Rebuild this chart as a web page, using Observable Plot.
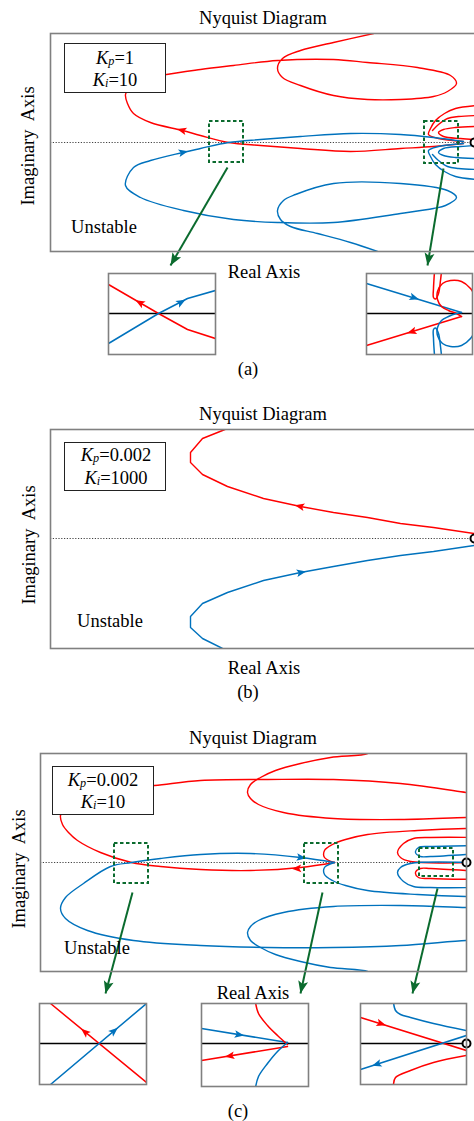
<!DOCTYPE html>
<html><head><meta charset="utf-8">
<script src="https://cdn.jsdelivr.net/npm/d3@7"></script>
<script src="https://cdn.jsdelivr.net/npm/@observablehq/plot@0.6"></script>
<style>
body{margin:0;background:#fff}
#fig{position:relative;width:474px;height:1121px;overflow:hidden;background:#fff;font-family:"Liberation Serif","Times New Roman",serif;color:#000}
.t{position:absolute;font-size:18.5px;line-height:1;white-space:pre;transform:translate(-50%,-50%)}
.r{transform:translate(-50%,-50%) rotate(-90deg)}
.lg{position:absolute;background:#fff;border:1.2px solid #222;box-sizing:border-box}
.t sub{font-size:.66em;position:relative;top:.08em;vertical-align:baseline;line-height:0}
svg{position:absolute}
</style></head><body><div id="fig"></div>
<script>
// ---------- texts ----------
const TITLE = "Nyquist Diagram", XLAB = "Real Axis", YLAB = "Imaginary  Axis", NOTE = "Unstable";
const panelTags = ["(a)", "(b)", "(c)"];
const kpValues = ["1", "0.002", "0.002"];
const kiValues = ["10", "1000", "10"];

// ---------- panel (a) curves : [Re, Im] in arbitrary units ----------
const redA = [[413,-1],[383,-4],[350,-6],[300,-9],[250,-6],[210,-3],[178,0],[150,7],[132,12],[100,20],[83,29],[77,39],[75,48],[80,56],[95,63],[116,68],[150,73],[183,77],[227,82],[283,83],[317,80],[367,75],[400,67],[406,59],[397,51],[383,46],[350,43],[317,43],[283,47],[250,57],[232,65],[227,74],[232,84],[250,92],[283,100],[323,109],[335,112]];
const blueA = [[335,-112],[327,-109],[300,-100],[267,-91],[240,-84],[230,-77],[227,-68],[233,-58],[245,-52],[283,-41],[350,-41],[397,-48],[406,-55],[395,-63],[383,-66],[350,-71],[283,-80],[227,-80],[183,-77],[133,-68],[90,-55],[75,-43],[83,-25],[100,-18],[132,-10],[150,-6],[178,0],[210,3],[250,6],[300,9],[350,8],[383,5],[413,1]];
const redA2 = [[426,37],[405,34],[394,29],[385,22],[380,14],[378,8],[388,4],[413,1]];
const redA3 = [[426,27],[408,26],[397,24],[388,18],[382,12]];
const redA4 = [[426,16],[405,15],[393,13],[388,10],[393,6],[410,4],[426,3]];
const blueA2 = [[426,-37],[405,-34],[394,-29],[385,-22],[380,-14],[378,-8],[388,-4],[413,-1]];
const blueA3 = [[426,-27],[408,-26],[397,-24],[388,-18],[382,-12]];
const blueA4 = [[426,-16],[405,-15],[393,-13],[388,-10],[393,-6],[410,-4],[426,-3]];
const redHeadsA = [{at:[132,12], to:[100,20]}];
const blueHeadsA = [{at:[132,-10], to:[150,-6]}];
const boxesA = [[159,193,-20,21],[374,408,-21,21]];
const linksA = [[177,-25,120,-123],[393,-26,377,-123]];
const criticalA = [[424,0]];

// panel (a) insets
const inA1red = [[107,-25],[79,-16],[50,0],[0,29]];
const inA1blue = [[0,-30],[50,0],[79,15],[107,23]];
const inA1redHeads = [{at:[32,10.5], to:[0,29]}];
const inA1blueHeads = [{at:[72,11], to:[79,15]}];
const inA2blue = [[0,30],[95,1]];
const inA2red = [[95,-3],[0,-32]];
const inA2redHair = [[68,42],[67,25],[67,16],[69,14.5],[72,20],[74,33],[75,42]];
const inA2redCirc = [[110,14],[104,25],[95,32],[84,33],[76,30],[71,22],[71,14],[75,7],[82,3],[90,0],[95,-3]];
const inA2blueHair = [[68,-42],[67,-25],[67,-16],[69,-14.5],[72,-20],[74,-33],[75,-42]];
const inA2blueCirc = [[110,-14],[104,-25],[95,-32],[84,-33],[76,-30],[71,-22],[71,-14],[75,-7],[82,-3],[90,0],[95,1]];
const inA2blueHeads = [{at:[47,16], to:[95,1]}];
const inA2redHeads = [{at:[46,-18], to:[0,-32]}];

// ---------- panel (b) ----------
const redB = [[424,5],[383,11],[350,15],[317,21],[283,26],[250,32],[213,40],[177,52],[152,64],[140,76],[140,86],[152,100],[172,108],[182,112]];
const blueB = [[182,-113],[172,-110],[152,-100],[140,-89],[140,-78],[152,-65],[177,-54],[213,-42],[250,-34],[283,-28],[317,-22],[350,-17],[383,-13],[424,-7]];
const redHeadsB = [{at:[250,32], to:[213,40]}];
const blueHeadsB = [{at:[250,-34], to:[283,-28]}];
const criticalB = [[424,0]];

// ---------- panel (c) ----------
const redC1 = [[294,0],[260,-5],[210,-8],[160,-7],[120,-4],[91,0],[60,10],[37,22],[28,30],[22,38],[20,47],[30,62],[60,72],[114,77],[160,82],[227,83],[293,83],[360,79],[426,70],[440,68]];
const redC2 = [[330,112],[327,109],[290,105],[260,99],[235,92],[220,85],[210,78],[207,70],[210,64],[218,58],[243,50],[293,44],[360,43],[426,45],[440,45]];
const redC3 = [[440,34],[426,34],[377,32],[327,28],[305,23],[292,18],[284,12],[284,5],[294,0]];
const redC4 = [[440,25],[390,25],[373,24],[363,19],[357,10],[360,5],[370,1],[426,0]];
const redC5 = [[440,-9],[390,-6],[380,-6],[375,-10],[378,-15],[390,-16],[440,-17]];
const blueC1 = [[440,-78],[426,-78],[360,-83],[293,-85],[227,-85],[160,-83],[93,-78],[47,-68],[25,-56],[20,-46],[25,-35],[43,-21],[70,-4],[91,0],[120,4],[160,8],[210,9],[260,5],[294,0]];
const blueC2 = [[330,-112],[327,-109],[290,-105],[260,-99],[235,-92],[220,-85],[210,-78],[207,-70],[210,-64],[218,-58],[243,-50],[293,-44],[360,-43],[426,-45],[440,-45]];
const blueC3 = [[440,-34],[426,-34],[377,-32],[327,-28],[305,-23],[292,-18],[284,-12],[284,-5],[294,0]];
const blueC4 = [[440,-25],[390,-25],[373,-24],[363,-19],[357,-10],[360,-5],[370,-1],[426,0]];
const blueC5 = [[440,9],[390,6],[380,6],[375,10],[378,15],[390,16],[440,17]];
const redHeadsC = [{at:[257,-6], to:[210,-8]}];
const blueHeadsC = [{at:[260,5], to:[294,0]}];
const boxesC = [[74,108,-21,19],[264,298,-21,19],[379,413,-14,14]];
const linksC = [[92,-30,65,-131],[282,-30,260,-131],[397,-26,372,-131]];
const criticalC = [[426,0]];

// panel (c) insets
const inC1red = [[107,-39],[11,40]];
const inC1blue = [[11,-41],[107,40]];
const inC1redHeads = [{at:[46,11], to:[11,40]}];
const inC1blueHeads = [{at:[74,12], to:[107,40]}];
const inC2blue = [[0,15],[86,1]];
const inC2red = [[86,-3],[0,-17]];
const inC2redCurve = [[54,41],[57,30],[66,18],[76,8],[86,-1]];
const inC2blueCurve = [[54,-44],[57,-33],[66,-20],[76,-8],[86,1]];
const inC2blueHeads = [{at:[37,9], to:[86,1]}];
const inC2redHeads = [{at:[29,-12.3], to:[0,-17]}];
const inC3blueTop = [[33,41],[35,33],[40,29],[50,26],[73,20],[106,13]];
const inC3red = [[0,26],[106,-7]];
const inC3blue = [[106,8],[0,-26]];
const inC3redBot = [[106,-12],[73,-19],[50,-27],[35,-34],[33,-41]];
const inC3redHeads = [{at:[20,20], to:[106,-7]}];
const inC3blueHeads = [{at:[17,-20.5], to:[0,-26]}];
const criticalC3 = [[106,0]];

// ---------- drawing ----------
const RED = "#ff0000", BLUE = "#0072bd", GREEN = "#0b6b2e", FRAME = "#808080";
const fig = document.getElementById("fig");
const deg = (dx, dy) => Math.atan2(dx, dy) * 180 / Math.PI;
const arrowSym = {draw(ctx, size) {
  const r = Math.sqrt(size / Math.PI);
  ctx.moveTo(0, -1.5 * r); ctx.lineTo(r, r); ctx.lineTo(0, 0.45 * r); ctx.lineTo(-r, r); ctx.closePath();
}};
const X = d => d[0], Y = d => d[1];
function heads(list, color, r) {
  return Plot.dot(list, {x: d => d.at[0], y: d => d.at[1], rotate: d => deg(d.to[0] - d.at[0], d.to[1] - d.at[1]),
    symbol: arrowSym, r, fill: color, stroke: "none"});
}
function lines(list, color, curve, w) {
  return list.map(c => Plot.line(c, {x: X, y: Y, stroke: color, strokeWidth: w, curve, clip: true}));
}
function place(svg, left, top) {
  svg.style.left = left + "px"; svg.style.top = top + "px";
  svg.style.maxWidth = "none"; svg.style.overflow = "visible"; svg.style.background = "transparent";
  fig.append(svg);
}
function mainPanel(o) {
  const marks = [
    Plot.ruleY([0], {stroke: "#444", strokeWidth: 1.1, strokeDasharray: "1.2,1.6"}),
    ...lines(o.red, RED, o.curve, 1.4),
    ...lines(o.blue, BLUE, o.curve, 1.4),
    heads(o.redHeads, RED, 3.8),
    heads(o.blueHeads, BLUE, 3.8)
  ];
  if (o.boxes) marks.push(Plot.rect(o.boxes, {x1: d => d[0], x2: d => d[1], y1: d => d[2], y2: d => d[3],
    fill: "none", stroke: GREEN, strokeWidth: 2, strokeDasharray: "3.5,2.5"}));
  if (o.links) {
    const R = 5;
    const hs = o.links.map(l => {
      const dx = l[2] - l[0], dy = l[3] - l[1], len = Math.hypot(dx, dy);
      return {at: [l[2] - dx / len * 1.5 * R, l[3] - dy / len * 1.5 * R], to: [l[2], l[3]]};
    });
    marks.push(Plot.link(o.links, {x1: d => d[0], y1: d => d[1], x2: d => d[2], y2: d => d[3], stroke: GREEN, strokeWidth: 2}));
    marks.push(heads(hs, GREEN, R));
  }
  marks.push(Plot.dot(o.critical, {x: X, y: Y, r: 4, stroke: "#000", strokeWidth: 2, fill: "#fff"}));
  marks.push(Plot.frame({stroke: FRAME, strokeWidth: 1.6}));
  const svg = Plot.plot({
    width: o.width, height: o.height,
    marginLeft: o.mL, marginRight: o.mR, marginTop: o.mT, marginBottom: o.mB,
    x: {domain: o.xd, axis: null}, y: {domain: o.yd, axis: null},
    marks
  });
  place(svg, 0, o.top);
}
function inset(o) {
  const m = 2;
  const marks = [
    Plot.ruleY([0], {stroke: "#000", strokeWidth: 1.6}),
    ...lines(o.red, RED, "linear", 1.5),
    ...lines(o.blue, BLUE, "linear", 1.5),
    ...lines(o.redCurves || [], RED, "catmull-rom", 1.5),
    ...lines(o.blueCurves || [], BLUE, "catmull-rom", 1.5),
    heads(o.redHeads, RED, 3.8),
    heads(o.blueHeads, BLUE, 3.8)
  ];
  if (o.critical) marks.push(Plot.dot(o.critical, {x: X, y: Y, r: 4, stroke: "#000", strokeWidth: 2, fill: "#fff"}));
  marks.push(Plot.frame({stroke: FRAME, strokeWidth: 1.6}));
  const svg = Plot.plot({
    width: o.w + 2 * m, height: o.h + 2 * m,
    marginLeft: m, marginRight: m, marginTop: m, marginBottom: m,
    x: {domain: [0, o.w], axis: null}, y: {domain: [-(o.h - 40), 40], axis: null},
    marks
  });
  place(svg, o.left - m, o.top - m);
}
function text(html, x, y, cls) {
  const d = document.createElement("div");
  d.className = "t" + (cls ? " " + cls : "");
  d.innerHTML = html; d.style.left = x + "px"; d.style.top = y + "px";
  fig.append(d);
}
function legend(i, left, top, w, h, cx, y1, y2) {
  const b = document.createElement("div");
  b.className = "lg";
  Object.assign(b.style, {left: left + "px", top: top + "px", width: w + "px", height: h + "px"});
  fig.append(b);
  text(`<i>K</i><sub><i>p</i></sub>=${kpValues[i]}`, cx, y1);
  text(`<i>K</i><sub><i>i</i></sub>=${kiValues[i]}`, cx, y2);
}

// (a)
mainPanel({top: 0, width: 480, height: 272, mL: 50, mR: 5, mT: 33, mB: 21, xd: [0, 425], yd: [-109, 109], curve: "catmull-rom",
  red: [redA, redA2, redA3, redA4], blue: [blueA, blueA2, blueA3, blueA4],
  redHeads: redHeadsA, blueHeads: blueHeadsA, boxes: boxesA, links: linksA, critical: criticalA});
inset({left: 108, top: 273, w: 107, h: 81, red: [inA1red], blue: [inA1blue], redHeads: inA1redHeads, blueHeads: inA1blueHeads});
inset({left: 366, top: 273, w: 106, h: 81, red: [inA2red], blue: [inA2blue], redCurves: [inA2redHair, inA2redCirc], blueCurves: [inA2blueHair, inA2blueCirc],
  redHeads: inA2redHeads, blueHeads: inA2blueHeads});
text(TITLE, 263, 18); text(YLAB, 28, 146, "r"); text(XLAB, 264, 272); text(panelTags[0], 248, 369);
legend(0, 64, 43, 102, 50, 115, 58, 80);
text(NOTE, 104, 227);

// (b)
mainPanel({top: 400, width: 480, height: 260, mL: 50, mR: 5, mT: 29, mB: 12, xd: [0, 425], yd: [-110, 109], curve: "linear",
  red: [redB], blue: [blueB], redHeads: redHeadsB, blueHeads: blueHeadsB, critical: criticalB});
text(TITLE, 263, 414); text(YLAB, 29, 545, "r"); text(XLAB, 264, 668); text(panelTags[1], 248, 692);
legend(1, 64, 442, 102, 49, 116, 455, 478);
text(NOTE, 110, 621);

// (c)
mainPanel({top: 720, width: 474, height: 280, mL: 40, mR: 8, mT: 33, mB: 29, xd: [0, 426], yd: [-109, 109], curve: "catmull-rom",
  red: [redC1, redC2, redC3, redC4, redC5], blue: [blueC1, blueC2, blueC3, blueC4, blueC5],
  redHeads: redHeadsC, blueHeads: blueHeadsC, boxes: boxesC, links: linksC, critical: criticalC});
inset({left: 39, top: 1003, w: 107, h: 81, red: [inC1red], blue: [inC1blue], redHeads: inC1redHeads, blueHeads: inC1blueHeads});
inset({left: 201, top: 1003, w: 107, h: 83, red: [inC2red], blue: [inC2blue], redCurves: [inC2redCurve], blueCurves: [inC2blueCurve],
  redHeads: inC2redHeads, blueHeads: inC2blueHeads});
inset({left: 360, top: 1003, w: 106, h: 81, red: [inC3red], blue: [inC3blue], redCurves: [inC3redBot], blueCurves: [inC3blueTop],
  redHeads: inC3redHeads, blueHeads: inC3blueHeads, critical: criticalC3});
text(TITLE, 253, 738); text(YLAB, 19, 869, "r"); text(XLAB, 253, 993); text(panelTags[2], 238, 1111);
legend(2, 52, 766, 102, 49, 103, 780, 802);
text(NOTE, 97, 948);
</script></body></html>
